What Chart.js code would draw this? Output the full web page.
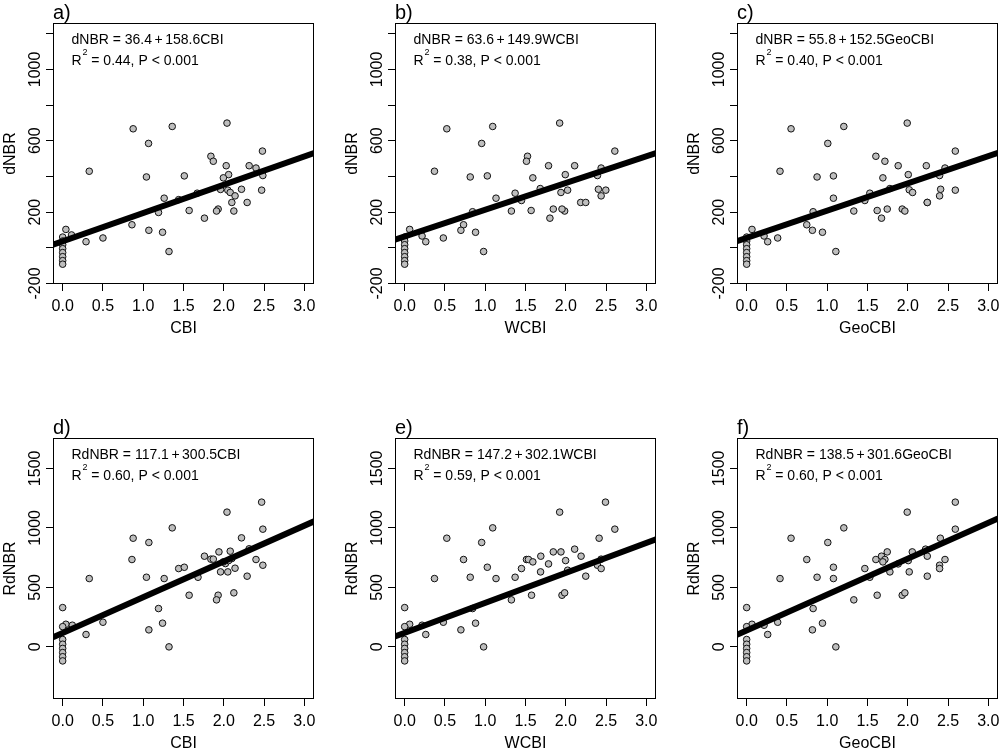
<!DOCTYPE html>
<html><head><meta charset="utf-8">
<script src="https://cdn.jsdelivr.net/npm/chart.js@4/dist/chart.umd.min.js"></script>
<style>
html,body{margin:0;padding:0;background:#fff;}
body{width:1000px;height:753px;overflow:hidden;position:relative;}
canvas{position:absolute;display:block;}
</style></head>
<body>
<canvas id="c0" width="330" height="338" style="left:0px;top:0px"></canvas>
<canvas id="c1" width="330" height="338" style="left:342px;top:0px"></canvas>
<canvas id="c2" width="330" height="338" style="left:684px;top:0px"></canvas>
<canvas id="c3" width="330" height="338" style="left:0px;top:415px"></canvas>
<canvas id="c4" width="330" height="338" style="left:342px;top:415px"></canvas>
<canvas id="c5" width="330" height="338" style="left:684px;top:415px"></canvas>
<script>
// ---------- data ----------
const panelLabels = ['a)','b)','c)','d)','e)','f)'];
const xTitles = ['CBI','WCBI','GeoCBI','CBI','WCBI','GeoCBI'];
const yTitles = ['dNBR','dNBR','dNBR','RdNBR','RdNBR','RdNBR'];
const eqIntercepts = ['36.4','63.6','55.8','117.1','147.2','138.5'];
const eqSlopes = ['158.6','149.9','152.5','300.5','302.1','301.6'];
const r2Values = ['0.44','0.38','0.40','0.60','0.59','0.60'];
// fitted line as drawn in each panel (intercept, slope)
const lineIntercepts = [36.4, 63.6, 55.8, 117.1, 118, 138.5];
const lineSlopes = [158.6, 149.9, 152.5, 300.5, 252, 301.6];

const xTicks = [0, 0.5, 1, 1.5, 2, 2.5, 3];
const xTickLabels = ['0.0','0.5','1.0','1.5','2.0','2.5','3.0'];
const dnbrTicks = [-200, 0, 200, 400, 600, 800, 1000, 1200];
const dnbrTickLabels = ['-200','','200','','600','','1000',''];
const rdnbrTicks = [0, 500, 1000, 1500];
const rdnbrTickLabels = ['0','500','1000','1500'];

const panelA_x = [0.875,1.36,2.04,1.066,1.84,1.87,2.48,2.03,2.315,2.40,0.33,1.04,1.51,2.06,1.995,2.485,1.96,2.05,2.08,2.22,2.47,2.14,1.26,1.44,1.67,2.10,2.29,1.19,1.57,1.93,1.91,2.125,1.76,0.86,1.07,1.24,0.04,0.11,0.29,0.50,1.32,0,0,0,0,0,0,0,0];
const panelA_y = [667,680,699,585,513,485,542,460,460,447,429,397,403,410,392,405,327,323,310,328,323,291,278,270,306,254,254,198,209,217,206,206,166,129,98,87,103,72,34,55,-21,60,38,17,-5,-27,-50,-72,-92];

const panelB_x = [0.523,1.093,1.924,0.956,1.525,1.512,2.609,1.786,2.11,2.439,0.37,0.814,1.026,1.994,1.591,2.393,1.683,2.023,1.94,2.405,2.497,2.439,1.134,1.45,1.371,2.185,2.248,0.843,1.57,1.845,1.325,1.986,1.953,1.803,0.731,0.698,0.88,0.062,0.216,0.262,0.48,0.98,0,0,0,0,0,0,0,0];
const panelB_y = [667,680,699,585,513,485,542,460,460,447,429,397,403,410,392,405,332,323,310,328,323,291,278,265,306,254,254,202,209,217,206,206,217,166,129,98,87,103,66,34,55,-21,60,38,17,-5,-27,-50,-72,-92];

const panelC_x = [0.551,1.206,1.993,1.007,1.604,1.716,2.59,1.881,2.23,2.462,0.414,0.874,1.077,2.006,1.691,2.395,2.018,2.06,2.408,2.59,2.395,1.778,1.529,1.077,1.467,2.242,2.242,1.33,1.62,1.745,1.931,1.964,1.674,0.825,0.746,0.816,0.941,0.066,0.216,0.261,0.385,1.107,0,0,0,0,0,0,0,0];
const panelC_y = [667,680,699,585,513,485,542,460,460,447,429,397,403,410,392,405,325,310,328,323,291,332,306,278,265,254,254,206,209,217,217,206,166,202,129,98,87,103,66,34,55,-21,60,38,17,-5,-27,-50,-72,-92];

const panelD_x = [2.47,2.04,1.36,2.485,0.875,2.22,1.07,0.86,1.76,1.84,1.87,1.94,2.08,2.315,2.40,2.485,2.02,2.10,1.96,2.05,2.14,1.44,1.51,1.04,0.33,1.26,1.68,2.29,1.57,1.93,1.91,2.125,1.19,1.24,1.07,0.50,0.29,1.32,0.04,0.12,2.06,1.995,0,0,0,0,0,0,0,0];
const panelD_y = [1216,1132,1000,989,913,916,877,734,762,737,737,798,804,824,734,686,700,742,630,630,661,658,669,585,574,574,585,594,434,434,395,454,322,199,143,207,104,0,190,182,725,714,330,170,62,22,-13,-48,-83,-118];

const panelE_x = [2.493,1.924,1.093,2.609,0.523,2.414,0.956,0.731,1.845,1.94,2.11,2.19,1.69,1.512,1.537,1.591,1.998,1.786,1.687,1.45,1.026,0.814,0.37,1.134,1.371,2.248,2.393,2.439,2.439,2.023,1.575,1.953,1.986,1.325,0.843,0.88,0.698,0.48,0.262,0.98,0.062,0.216,0,0,0,0,0,0,0,0];
const panelE_y = [1216,1132,1000,989,913,913,877,734,798,798,821,762,762,734,734,714,725,697,630,658,669,585,574,574,585,594,686,658,737,644,434,434,454,395,322,199,143,207,104,0,190,182,330,170,62,22,-13,-48,-83,-118];

const panelF_x = [2.59,1.993,1.206,2.59,0.551,2.404,1.007,0.746,1.745,2.056,2.221,2.242,1.674,1.604,1.716,1.691,2.006,1.881,2.018,1.467,1.077,0.874,0.414,1.077,1.529,2.242,2.395,2.395,2.462,1.778,1.62,1.931,1.964,1.33,0.825,0.941,0.816,0.385,0.261,1.107,0.066,0.216,0,0,0,0,0,0,0,0];
const panelF_y = [1216,1132,1000,989,913,913,877,734,798,798,821,762,762,734,734,714,725,697,630,658,669,585,574,574,585,594,686,658,734,630,434,434,454,395,322,199,143,207,104,0,190,182,330,170,62,22,-13,-48,-83,-118];

// ---------- chart construction ----------
const allX = [panelA_x, panelB_x, panelC_x, panelD_x, panelE_x, panelF_x];
const allY = [panelA_y, panelB_y, panelC_y, panelD_y, panelE_y, panelF_y];
const X_MIN = -0.12, X_MAX = 3.12;
const yRanges = [[-203, 1260], [-438, 1755]];
const FONT = "'Liberation Sans', Arial, Helvetica, sans-serif";
const f = px => px + 'px ' + FONT;

function drawParts(ctx, x, y, parts) {
  // parts: [text, fontPx, dy, gapAfter]
  let cx = x;
  parts.forEach(p => {
    ctx.font = f(p[1]);
    ctx.fillText(p[0], cx, y - p[2]);
    cx += ctx.measureText(p[0]).width + p[3];
  });
}

const annot = {
  id: 'annot',
  afterDraw(chart, args, opts) {
    const i = opts.idx;
    const row = i < 3 ? 0 : 1;
    const ctx = chart.ctx, ca = chart.chartArea;
    const xs = chart.scales.x, ys = chart.scales.y;
    ctx.save();
    ctx.fillStyle = '#000';
    ctx.strokeStyle = '#000';
    ctx.lineWidth = 1;
    ctx.strokeRect(Math.round(ca.left) + 0.5, Math.round(ca.top) + 0.5,
                   Math.round(ca.right - ca.left) - 1, Math.round(ca.bottom - ca.top) - 1);
    ctx.textBaseline = 'alphabetic';
    // x tick labels
    ctx.font = f(16);
    ctx.textAlign = 'center';
    xTicks.forEach((v, k) => ctx.fillText(xTickLabels[k], xs.getPixelForValue(v), ca.bottom + 27));
    // y tick labels (rotated)
    const yt = row === 0 ? dnbrTicks : rdnbrTicks;
    const yl = row === 0 ? dnbrTickLabels : rdnbrTickLabels;
    yt.forEach((v, k) => {
      if (!yl[k]) return;
      ctx.save();
      ctx.translate(ca.left - 13, ys.getPixelForValue(v));
      ctx.rotate(-Math.PI / 2);
      ctx.fillText(yl[k], 0, 0);
      ctx.restore();
    });
    // axis titles
    ctx.font = f(16);
    ctx.fillText(xTitles[i], (ca.left + ca.right) / 2, ca.bottom + 49);
    ctx.save();
    ctx.translate(ca.left - 38.5, (ca.top + ca.bottom) / 2);
    ctx.rotate(-Math.PI / 2);
    ctx.fillText(yTitles[i], 0, 0);
    ctx.restore();
    // panel label
    ctx.textAlign = 'left';
    ctx.font = f(20);
    ctx.fillText(panelLabels[i], ca.left, ca.top - 4.5);
    // equation
    const ex = ca.left + 18.5;
    drawParts(ctx, ex, ca.top + 20.5, [
      [yTitles[i] + ' = ' + eqIntercepts[i], 14, 0, 2.5],
      ['+', 14, 0, 2.5],
      [eqSlopes[i] + xTitles[i], 14, 0, 0]
    ]);
    drawParts(ctx, ex, ca.top + 41.5, [
      ['R', 14, 0, 0.8],
      ['2', 9, 10, 0],
      [' = ' + r2Values[i] + ', P < 0.001', 14, 0, 0]
    ]);
    ctx.restore();
  }
};

for (let i = 0; i < 6; i++) {
  const row = i < 3 ? 0 : 1;
  const pts = allX[i].map((x, k) => ({ x: x, y: allY[i][k] }));
  const b0 = lineIntercepts[i], b1 = lineSlopes[i];
  const yt = row === 0 ? dnbrTicks : rdnbrTicks;
  new Chart(document.getElementById('c' + i), {
    type: 'scatter',
    data: {
      datasets: [
        { type: 'line', data: [{ x: X_MIN, y: b0 + b1 * X_MIN }, { x: X_MAX, y: b0 + b1 * X_MAX }],
          borderColor: '#000', borderWidth: 6, pointRadius: 0, fill: false, tension: 0, clip: 0,
          borderCapStyle: 'butt' },
        { type: 'scatter', data: pts, pointRadius: 3.3, pointHoverRadius: 3.3,
          pointBackgroundColor: '#bebebe', pointBorderColor: '#111', pointBorderWidth: 1 }
      ]
    },
    options: {
      responsive: false, animation: false, events: [],
      layout: { padding: { top: 23, right: 16, left: 0, bottom: 0 } },
      plugins: { legend: { display: false }, tooltip: { enabled: false }, annot: { idx: i } },
      scales: {
        x: { type: 'linear', min: X_MIN, max: X_MAX, bounds: 'data',
             afterBuildTicks: s => { s.ticks = xTicks.map(v => ({ value: v })); },
             afterFit: s => { s.height = 54; },
             ticks: { display: false },
             grid: { display: true, drawOnChartArea: false, drawTicks: true, tickLength: 7, color: '#000', lineWidth: 1 },
             border: { display: false } },
        y: { type: 'linear', min: yRanges[row][0], max: yRanges[row][1], bounds: 'data',
             afterBuildTicks: s => { s.ticks = yt.map(v => ({ value: v })); },
             afterFit: s => { s.width = 53; },
             ticks: { display: false },
             grid: { display: true, drawOnChartArea: false, drawTicks: true, tickLength: 7, color: '#000', lineWidth: 1 },
             border: { display: false } }
      }
    },
    plugins: [annot]
  });
}
</script>
</body></html>
